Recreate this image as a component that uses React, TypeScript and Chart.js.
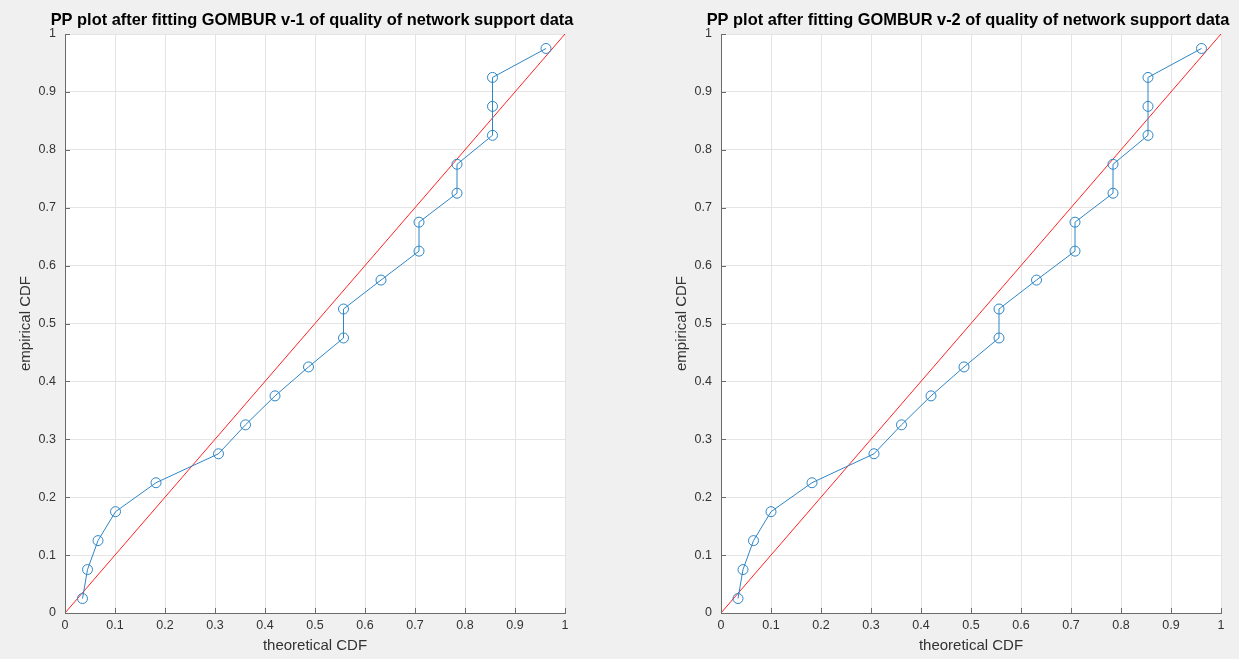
import React, { useEffect, useRef } from "react";
import { Chart, registerables } from "chart.js";

Chart.register(...registerables);

// Empirical CDF levels (plotting positions (i - 0.5) / n, n = 20)
const empiricalCdf = [
  0.025, 0.075, 0.125, 0.175, 0.225, 0.275, 0.325, 0.375, 0.425, 0.475,
  0.525, 0.575, 0.625, 0.675, 0.725, 0.775, 0.825, 0.875, 0.925, 0.975,
];

// Theoretical CDF of each observation under the fitted GOMBUR v-1 model
const theoreticalCdfV1 = [
  0.035, 0.045, 0.066, 0.101, 0.182, 0.307, 0.361, 0.42, 0.487, 0.557,
  0.557, 0.632, 0.708, 0.708, 0.784, 0.784, 0.855, 0.855, 0.855, 0.962,
];

// Theoretical CDF of each observation under the fitted GOMBUR v-2 model
const theoreticalCdfV2 = [
  0.034, 0.044, 0.065, 0.1, 0.182, 0.306, 0.361, 0.42, 0.486, 0.556,
  0.556, 0.631, 0.708, 0.708, 0.784, 0.784, 0.854, 0.854, 0.854, 0.961,
];

// Diagonal reference line y = x
const referenceX = [0, 1];
const referenceY = [0, 1];

const tickLabels = ["0", "0.1", "0.2", "0.3", "0.4", "0.5", "0.6", "0.7", "0.8", "0.9", "1"];

const titles = [
  "PP plot after fitting GOMBUR v-1 of quality of network support data",
  "PP plot after fitting GOMBUR v-2 of quality of network support data",
];

const FONT = "'Liberation Sans', Arial, Helvetica, sans-serif";
const AXIS_COLOR = "#6b6b6b";
const TEXT_COLOR = "#333333";
const GRID_COLOR = "#e4e4e4";
const DATA_COLOR = "#2f86c6";
const REF_COLOR = "#ff2222";

// White plot area, short inward tick marks and a bold title over the axes
const plotAreaPlugin = {
  id: "plotArea",
  beforeDraw(chart: any) {
    const { ctx, chartArea } = chart;
    ctx.save();
    ctx.fillStyle = "#ffffff";
    ctx.fillRect(chartArea.left, chartArea.top, chartArea.right - chartArea.left, chartArea.bottom - chartArea.top);
    ctx.restore();
  },
  afterDraw(chart: any, _args: any, opts: any) {
    const { ctx, chartArea, scales } = chart;
    const len = 5;
    ctx.save();
    ctx.strokeStyle = AXIS_COLOR;
    ctx.lineWidth = 1;
    ctx.beginPath();
    scales.x.ticks.forEach((t: any) => {
      const px = Math.round(scales.x.getPixelForValue(t.value)) + 0.5;
      ctx.moveTo(px, chartArea.bottom);
      ctx.lineTo(px, chartArea.bottom - len);
    });
    scales.y.ticks.forEach((t: any) => {
      const py = Math.round(scales.y.getPixelForValue(t.value)) + 0.5;
      ctx.moveTo(chartArea.left, py);
      ctx.lineTo(chartArea.left + len, py);
    });
    ctx.stroke();

    if (opts && opts.text) {
      ctx.fillStyle = "#000000";
      ctx.font = `bold 16.4px ${FONT}`;
      ctx.textAlign = "center";
      ctx.textBaseline = "middle";
      ctx.fillText(opts.text, (chartArea.left + chartArea.right) / 2 - 3, 20.5);
    }
    ctx.restore();
  },
};

type PanelProps = {
  title: string;
  theoretical: number[];
  left: number;
  width: number;
  yAxisWidth: number;
  rightPad: number;
};

function PPPanel({ title, theoretical, left, width, yAxisWidth, rightPad }: PanelProps) {
  const ref = useRef<HTMLCanvasElement>(null);

  useEffect(() => {
    if (!ref.current) return;
    const points = theoretical.map((x, i) => ({ x, y: empiricalCdf[i] }));
    const diag = referenceX.map((x, i) => ({ x, y: referenceY[i] }));
    const bottomAxisHeight = 46;

    const chart = new Chart(ref.current, {
      type: "scatter",
      data: {
        datasets: [
          {
            data: points,
            showLine: true,
            borderColor: DATA_COLOR,
            backgroundColor: "rgba(0,0,0,0)",
            borderWidth: 1,
            pointRadius: 5,
            pointBorderWidth: 1,
            pointBorderColor: DATA_COLOR,
            pointBackgroundColor: "rgba(0,0,0,0)",
            clip: false,
          },
          {
            data: diag,
            showLine: true,
            borderColor: REF_COLOR,
            borderWidth: 1,
            pointRadius: 0,
            clip: false,
          },
        ],
      },
      options: {
        responsive: false,
        animation: false,
        devicePixelRatio: 1,
        layout: { padding: { left: 0, right: rightPad, top: 34, bottom: 0 } },
        plugins: {
          legend: { display: false },
          tooltip: { enabled: false },
          title: { display: false },
          plotArea: { text: title },
        } as any,
        scales: {
          x: {
            type: "linear",
            min: 0,
            max: 1,
            afterFit: (s: any) => {
              s.height = bottomAxisHeight;
            },
            ticks: {
              stepSize: 0.1,
              autoSkip: false,
              maxRotation: 0,
              padding: 5.5,
              color: TEXT_COLOR,
              font: { family: FONT, size: 12.5 },
              callback: (_v: any, i: number) => tickLabels[i],
            },
            grid: { color: GRID_COLOR, drawTicks: false, lineWidth: 1 },
            border: { display: true, color: AXIS_COLOR, width: 1 },
            title: {
              display: true,
              text: "theoretical CDF",
              color: TEXT_COLOR,
              font: { family: FONT, size: 15, lineHeight: 1.2 },
              padding: { top: 0, bottom: 4 },
            },
          },
          y: {
            type: "linear",
            min: 0,
            max: 1,
            afterFit: (s: any) => {
              s.width = yAxisWidth;
            },
            ticks: {
              stepSize: 0.1,
              autoSkip: false,
              padding: 9,
              color: TEXT_COLOR,
              font: { family: FONT, size: 12.5 },
              callback: (_v: any, i: number) => tickLabels[i],
            },
            grid: { color: GRID_COLOR, drawTicks: false, lineWidth: 1 },
            border: { display: true, color: AXIS_COLOR, width: 1 },
            title: {
              display: true,
              text: "empirical CDF",
              color: TEXT_COLOR,
              font: { family: FONT, size: 15, lineHeight: 1.2 },
              padding: { top: yAxisWidth - 39 - 9, bottom: 0 },
            },
          },
        },
      },
      plugins: [plotAreaPlugin],
    });
    return () => chart.destroy();
  }, [title, theoretical, yAxisWidth, rightPad]);

  return (
    <canvas
      ref={ref}
      width={width}
      height={659}
      style={{ position: "absolute", left, top: 0, width, height: 659 }}
    />
  );
}

export default function App() {
  return (
    <div
      style={{
        position: "fixed",
        left: 0,
        top: 0,
        width: 1239,
        height: 659,
        background: "#f0f0f0",
        overflow: "hidden",
      }}
    >
      <PPPanel title={titles[0]} theoretical={theoreticalCdfV1} left={0} width={620} yAxisWidth={65} rightPad={55} />
      <PPPanel title={titles[1]} theoretical={theoreticalCdfV2} left={620} width={619} yAxisWidth={101} rightPad={18} />
    </div>
  );
}
